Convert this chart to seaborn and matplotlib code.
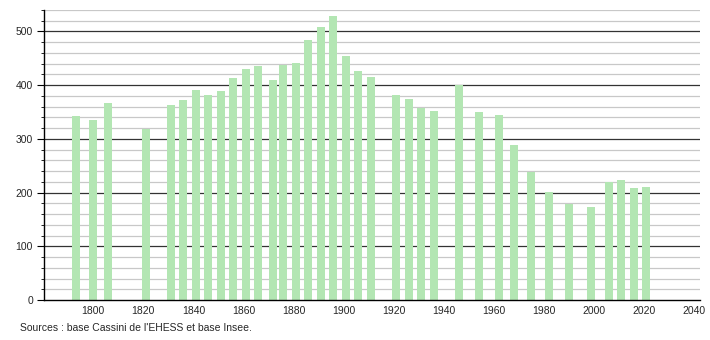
import matplotlib
matplotlib.use("Agg")
import matplotlib.pyplot as plt
from matplotlib.ticker import MultipleLocator
import seaborn as sns
import pandas as pd

years = [1793, 1800, 1806, 1821, 1831, 1836, 1841, 1846, 1851, 1856,
         1861, 1866, 1872, 1876, 1881, 1886, 1891, 1896, 1901, 1906,
         1911, 1921, 1926, 1931, 1936, 1946, 1954, 1962, 1968, 1975,
         1982, 1990, 1999, 2006, 2011, 2016, 2021]
population = [342, 335, 366, 318, 363, 372, 391, 381, 389, 413,
              430, 435, 409, 437, 441, 484, 508, 529, 454, 426,
              415, 382, 374, 357, 351, 400, 350, 344, 288, 238,
              202, 178, 174, 220, 223, 208, 210]
x_ticks = [1800, 1820, 1840, 1860, 1880, 1900, 1920, 1940, 1960, 1980, 2000, 2020, 2040]
source_text = "Sources : base Cassini de l'EHESS et base Insee."

df = pd.DataFrame({"year": years, "pop": population})

sns.set_style("white")
plt.rcParams['font.family'] = ['Liberation Sans', 'DejaVu Sans']

fig = plt.figure(figsize=(7.1, 3.4), dpi=100)
ax = fig.add_axes([44/710, 40/340, (700-44)/710, (300-10)/340])

sns.barplot(data=df, x="year", y="pop", native_scale=True, width=0.8,
            color="#b3e6b3", saturation=1, edgecolor="none", ax=ax, zorder=3)

ax.set_xlim(1780.3, 2042.5)
ax.set_ylim(0, 540)
ax.set_xticks(x_ticks)
ax.set_xticklabels([str(t) for t in x_ticks])
ax.yaxis.set_major_locator(MultipleLocator(100))
ax.yaxis.set_minor_locator(MultipleLocator(20))
ax.grid(False)
ax.set_axisbelow(True)
for v in range(20, 541, 20):
    if v % 100 == 0:
        ax.axhline(v, color="#333333", lw=0.9, zorder=1)
    else:
        ax.axhline(v, color="#c8c8c8", lw=0.9, zorder=1)

ax.set_xlabel("")
ax.set_ylabel("")
for s in ["top", "right"]:
    ax.spines[s].set_visible(False)
for s in ["left", "bottom"]:
    ax.spines[s].set_color("black")
    ax.spines[s].set_linewidth(1)
    ax.spines[s].set_zorder(5)

ax.tick_params(axis="y", which="major", length=5, width=0.8, color="black",
               labelsize=7.5, direction="out", left=True, pad=3)
ax.tick_params(axis="y", which="minor", length=2.5, width=0.6, color="black",
               direction="out", left=True)
ax.tick_params(axis="x", which="both", length=0, labelsize=7.5, pad=4)

fig.text(20/710, 1 - 328/340, source_text, fontsize=7.5, ha="left", va="center")

fig.savefig("out.png", dpi=100)
